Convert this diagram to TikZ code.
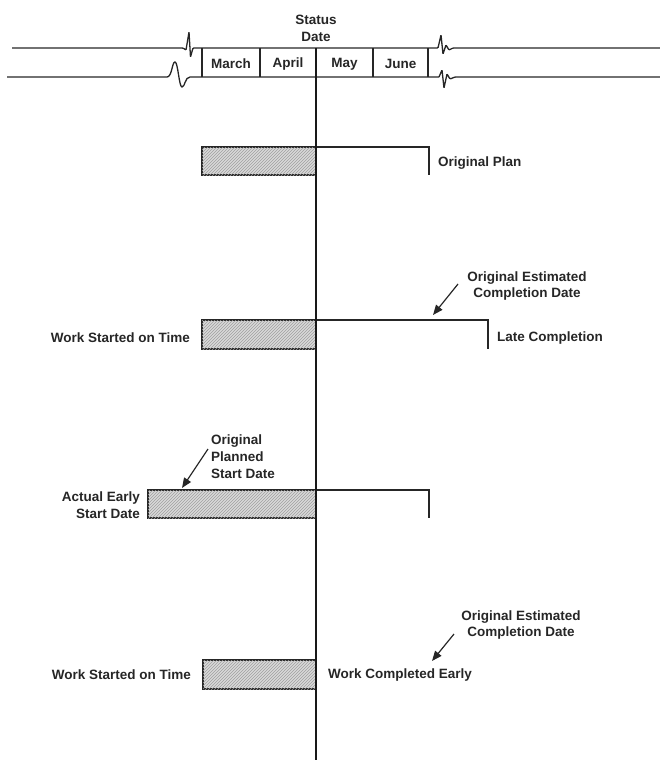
\documentclass[tikz,border=0pt]{standalone}
\usepackage{fontspec}
\setmainfont{Liberation Sans}
\usetikzlibrary{patterns,arrows.meta}
\begin{document}
\begin{tikzpicture}[x=1pt,y=-1pt,
  lbl/.style={font=\fontsize{13.5}{16.8}\selectfont\bfseries, inner sep=0pt, text=black!85},
  rule/.style={line width=1.3pt, black!85},
  bar/.style={line width=1.4pt, black!85, fill=gray!30, postaction={pattern=north east lines, pattern color=gray!75}},
  plan/.style={line width=1.4pt, black!85},
  callout/.style={line width=1.2pt, black!85, -{Triangle[length=10pt,width=8pt]}}
]
\useasboundingbox (0,0) rectangle (660,760);

% header timeline
\draw[rule, rounded corners=0.8pt] (12,48) -- (183,48) -- (186,50) -- (189,32) -- (190.5,57) -- (193,48) -- (428,48)
   -- (438,48) -- (441,35) -- (443,54) -- (446,45) -- (449,50) -- (453,48) -- (660,48);
\draw[rule] (7,77) -- (167,77) .. controls (172,77) and (172,62) .. (175,62)
   .. controls (178,62) and (179,87) .. (182,87) .. controls (185,87) and (185,77) .. (190,77) -- (428,77)
   -- (439,77);
\draw[rule, rounded corners=0.8pt] (439,77) -- (442,70) -- (444,88) -- (447,74) -- (450,79) -- (455,77) -- (660,77);
\foreach \x in {202,260,373,428} \draw[rule] (\x,48) -- (\x,77);

\node[lbl] (mar) at (231,64) {March};
\node[lbl] (apr) at (288,64) {April};
\node[lbl] (may) at (344.5,64) {May};
\node[lbl] (jun) at (400.5,64) {June};
\node[lbl, align=center] (status) at (316,28) {Status\\Date};

% bar 1: original plan
\draw[bar] (202,147) rectangle (316,175);
\draw[plan] (316,147) -- (429,147) -- (429,175);
\node[lbl, anchor=west] (orig) at (438,163) {Original Plan};

% bar 2: late completion
\draw[bar] (202,320) rectangle (316,349);
\draw[plan] (316,320) -- (488,320) -- (488,349);
\node[lbl, anchor=east] (wst1) at (190,338) {Work Started on Time};
\node[lbl, anchor=west] (late) at (497,338) {Late Completion};
\node[lbl, align=center] (oecd1) at (527,286) {Original Estimated\\Completion Date};
\coordinate (t1) at (433,315);
\draw[callout] (458,284) -- (t1);

% bar 3: early start
\draw[bar] (148,490) rectangle (316,518);
\draw[plan] (316,490) -- (429,490) -- (429,518);
\node[lbl, align=right, anchor=east] (aesd) at (140,505) {Actual Early\\Start Date};
\node[lbl, align=left, anchor=west] (opsd) at (211,456.5) {Original\\Planned\\Start Date};
\coordinate (t2) at (182,488);
\draw[callout] (208,449) -- (t2);

% bar 4: early completion
\draw[bar] (203,660) rectangle (316,689);
\node[lbl, anchor=east] (wst2) at (191,675) {Work Started on Time};
\node[lbl, anchor=west] (wce) at (328,675) {Work Completed Early};
\node[lbl, align=center] (oecd2) at (521,625) {Original Estimated\\Completion Date};
\coordinate (t3) at (432,661);
\draw[callout] (454,634) -- (t3);

% status line
\draw[line width=1.8pt, black!90] (316,48) -- (316,760);
\end{tikzpicture}
\end{document}
